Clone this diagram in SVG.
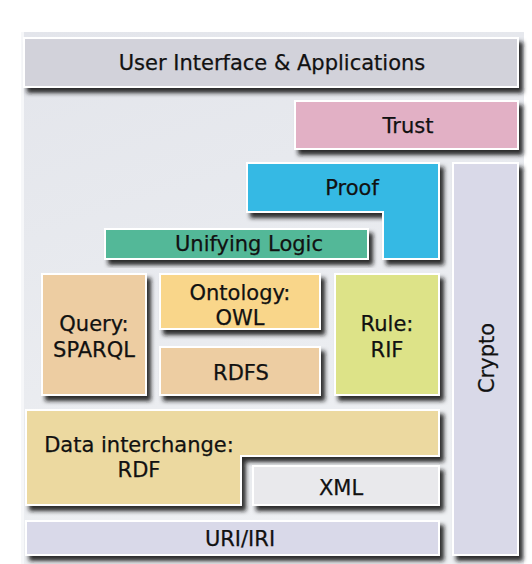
<svg xmlns="http://www.w3.org/2000/svg" width="532" height="564" viewBox="0 0 532 564">
  <defs>
    <linearGradient id="bg" x1="0" y1="0" x2="0.3" y2="1">
      <stop offset="0" stop-color="#e3e5eb"/>
      <stop offset="1" stop-color="#eef0f3"/>
    </linearGradient>
    <filter id="sh" x="-10%" y="-10%" width="130%" height="140%">
      <feDropShadow dx="4" dy="5" stdDeviation="2.2" flood-color="#151515" flood-opacity="0.9"/>
    </filter>
  </defs>
  <style>
    .box { stroke: #ffffff; stroke-width: 2; filter: url(#sh); }
    .t { font-family: "DejaVu Sans", Verdana, sans-serif; font-size: 21px; fill: #111111; text-anchor: middle; stroke: #111111; stroke-width: 0.25; }
  </style>
  <rect x="21" y="32" width="503" height="532" fill="url(#bg)"/>
  <rect x="21" y="32" width="3" height="532" fill="#f6f7f9"/>

  <g id="ui">
    <rect class="box" x="24" y="38" width="494" height="49" fill="#d2d2da"/>
    <text class="t" x="272" y="70">User Interface &amp; Applications</text>
  </g>
  <g id="trust">
    <rect class="box" x="295" y="101" width="223" height="48" fill="#e2b0c5"/>
    <text class="t" x="408" y="133">Trust</text>
  </g>
  <g id="crypto">
    <rect class="box" x="453" y="163" width="65" height="392" fill="#d9d9e8"/>
    <text class="t" transform="translate(494,358) rotate(-90)" x="0" y="0">Crypto</text>
  </g>
  <g id="proof">
    <path class="box" d="M247,163 H439 V259 H383 V212 H247 Z" fill="#35b9e4"/>
    <text class="t" x="352" y="195">Proof</text>
  </g>
  <g id="logic">
    <rect class="box" x="105" y="229" width="263" height="30" fill="#52b898"/>
    <text class="t" x="249" y="251">Unifying Logic</text>
  </g>
  <g id="query">
    <rect class="box" x="42" y="274" width="104" height="121" fill="#edcda2"/>
    <text class="t" x="94" y="331">Query:</text>
    <text class="t" x="94" y="357">SPARQL</text>
  </g>
  <g id="ontology">
    <rect class="box" x="160" y="274" width="160" height="55" fill="#f9d68a"/>
    <text class="t" x="240" y="300">Ontology:</text>
    <text class="t" x="240" y="325">OWL</text>
  </g>
  <g id="rdfs">
    <rect class="box" x="160" y="347" width="160" height="48" fill="#edcda2"/>
    <text class="t" x="241" y="380">RDFS</text>
  </g>
  <g id="rule">
    <rect class="box" x="335" y="274" width="104" height="121" fill="#dde388"/>
    <text class="t" x="387" y="331">Rule:</text>
    <text class="t" x="387" y="357">RIF</text>
  </g>
  <g id="rdf">
    <path class="box" d="M26,410 H439 V456 H241 V505 H26 Z" fill="#ecd9a0"/>
    <text class="t" x="139" y="452">Data interchange:</text>
    <text class="t" x="139" y="477">RDF</text>
  </g>
  <g id="xml">
    <rect class="box" x="253" y="466" width="186" height="39" fill="#e9e9ec"/>
    <text class="t" x="341" y="495">XML</text>
  </g>
  <g id="uri">
    <rect class="box" x="26" y="521" width="413" height="34" fill="#d9d9e9"/>
    <text class="t" x="240" y="546">URI/IRI</text>
  </g>
  <g id="connectors"/>
</svg>
